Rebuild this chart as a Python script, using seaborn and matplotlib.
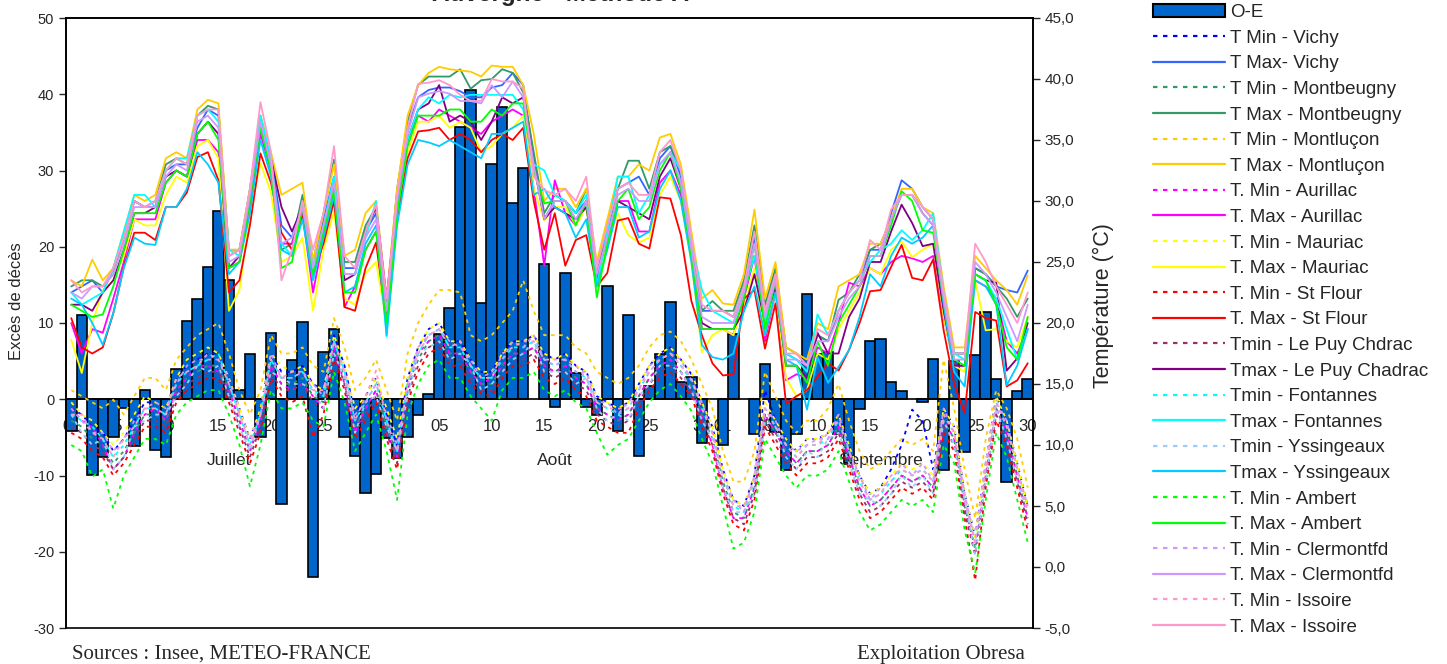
import numpy as np
import pandas as pd
import matplotlib
matplotlib.use("Agg")
import matplotlib.pyplot as plt
from matplotlib.lines import Line2D
from matplotlib.patches import Patch
from matplotlib.ticker import FuncFormatter
import seaborn as sns

# --- excès de décès (O-E), du 1er juillet au 30 septembre 2003 ---
oe_juil = [-4.2, 11.0, -9.9, -7.6, -5.0, -1.2, -6.1, 1.2, -6.6, -7.6, 4.0, 10.3, 13.2, 17.4, 24.7, 15.7,
           1.2, 5.9, -5.0, 8.7, -13.7, 5.2, 10.1, -23.3, 6.2, 9.2, -5.0, -7.5, -12.3, -9.8, -5.1]
oe_aout = [-7.7, -5.0, -2.1, 0.7, 8.6, 12.0, 35.7, 40.5, 12.6, 30.8, 38.3, 25.8, 30.3, np.nan, 17.8, -1.0,
           16.6, 3.5, -1.0, -2.1, 14.8, -4.1, 11.1, -7.4, 1.8, 5.9, 12.7, 2.3, 2.9, -5.7, np.nan]
oe_sept = [-6.0, 8.6, np.nan, -4.6, 4.6, -4.3, -9.3, -4.6, 13.8, 5.9, 6.2, -4.6, -8.4, -1.3, 7.7, 7.9,
           2.2, 1.1, np.nan, -0.3, 5.3, -9.3, 5.0, -6.9, 5.8, 11.4, 2.7, -10.9, 1.1, 2.7]
oe = oe_juil + oe_aout + oe_sept

# --- températures (°C) ---
vichy_tn = ([13,12.5,11.5,11,9.5,10.5,12,13.5,13.5,13,15.5,16.5,17,17.5,17.5,15.5,13,10.5,13,17.5,16,16,16.5,15,14.5,19,16.5,12.5,14,15.5,12.5]
            + [10,15.5,18,19.5,20,18.5,18.5,17,16,16,17.5,18.5,18.5,19,17.5,17,17.5,16.5,16,14,13.5,13,13.5,15,16.5,17.5,18,17,15.8,13.5,11.5]
            + [8,5.5,5,7.5,14.5,12,10.5,9.5,10.5,10.5,11,12.5,10,7.5,6,6.5,8,10,12.9,12,8,13,11.5,6,2.5,8.5,14,12,8.5,5])
vichy_tx = ([22.5,23,23.5,22.5,24.5,27,30,29.5,29.5,32.5,33,33,36,37.5,37,25.5,26,30.5,36.5,33.5,28,27,30,24.5,28.5,32,24.5,24.5,27.5,29,21.5]
            + [30.5,36,38.5,39.1,39.3,39.3,39,38.5,38.5,39.3,39.5,40.5,39.5,33.5,28.5,30,30,29,30,24,27.5,31,31.5,32,30.5,33.5,34.5,32,26.5,21,21]
            + [21,20.5,23,27,21,24,17.5,17,16.5,19,18.5,21,22.5,23.5,26,26,29,31.7,31,29.5,28.5,22.5,17.5,17.5,24.5,24,23,22.7,22.5,24.3])
montbeugny_tn = ([12,11.5,10.5,10,8.5,9.5,11,12.5,12.5,12,14.5,15.5,16,16.5,16.5,14.5,12,9.5,12,16.5,15,15,15.5,14,13.5,18,15.5,11.5,13,14.5,11.5]
                 + [9,14.5,17,18.5,19,17.5,17.5,16,15,15,16.5,17.5,17.5,18,16.5,16,16.5,15.5,15,13,12.5,12,12.5,14,15.5,16.5,17,16,14.8,12.5,10.5]
                 + [7,4.5,4,6.5,12.5,11,9.5,8.5,9.5,9.5,10,11.5,9,6.5,5,5.5,6.5,7.5,7,7.5,6.5,12,10.5,5,1.5,7.5,13,11,7.5,4])
montbeugny_tx = ([23,23.5,23.5,23,24,27,30,29.5,30,33,33.5,33,37,37.8,37.5,26,26,31,37,33.5,26,26.5,30.5,25,29,33.4,25,25,28,29.5,21.5]
                 + [31,36.5,39.5,40.2,40.2,40.2,40.8,39.2,39.9,40,40.8,40.5,38.9,34,29,30.5,30,29,31,24,28,31,33.3,33.3,31,34,34.5,32.5,27,21,21.8]
                 + [21,21,23.5,28,21.5,24.5,18,17.5,16.5,19,18.5,21.9,22.5,24,26,26.5,28.5,30.5,30.5,29,28,22,17.5,17.5,24.5,24,23,22,20.5,22])
montlucon_tn = ([14.5,14,13.5,13,13.7,12.5,14,15.5,15.5,14.5,17,18,19,19.5,20,17.5,14.5,12.5,14.5,19,17.5,17.5,18,16.5,16,20.4,18,14.5,15.5,17,14.5]
                + [12,17.5,20,21.5,22.7,22.7,22.5,19,18.5,19,20,21,23.5,21,19,19,19,18,17.5,16,15.5,15,15.5,16.5,18,19,19.3,18.5,17,15,13]
                + [9.5,7,7,9.5,16,14,12,11,12,12,13,15,12,9.5,8,8.5,9.5,10.5,10,10.5,9.5,17,13,8,4,10.5,14.5,13,10.5,6.5])
montlucon_tx = ([23.5,23,25.2,23.5,24.5,27.5,30.5,30,30.5,33.5,34,33.5,37.5,38.3,38,26,26,31,37,34,30.5,31,31.5,25,29,33,25.5,26,29,30,22]
                + [31,37,39.5,40.5,41,40.8,40.7,40.6,40.2,41.1,41,41,39.5,35.5,30,31,31,29.5,31,25,28.5,32,32,33,32.5,35.2,35.5,33,27.5,22,22.7]
                + [21.6,21.5,24,29.3,22,25,18,17.5,17,20,19.5,23,23.5,24,26.5,26.5,28.5,31,31,29.5,29,23,18,18,25.5,24.5,23.5,22.7,21.5,23.9])
aurillac_tn = ([13,12,11.5,10,8,9,11,12.5,13,12,14.5,15.5,16.5,16.5,16,14.5,12,9.5,12,16.5,15,14.5,15,14,13,18,15,11,13,14.5,11]
               + [9,14.5,17.5,18.5,19,17.5,17.5,16,15,15.5,16.5,17.5,17.5,18,16.5,16,16.5,15.5,15,13,12.5,12,12.5,14,15.5,16.5,17,16,14.5,12.5,10]
               + [6.5,4,4,6.5,12.5,11,9.5,8.5,9.5,9.5,10,11.5,9,6.5,5,5.5,6.5,7.5,7,7.5,6.5,12,10.5,5,1,7.5,13,11,7.5,4])
aurillac_tx = ([20,17.5,19.5,19.2,22,25,28.5,28.5,28.5,31.5,32.5,32,35,35,34,24.5,25,29.5,35.5,32.5,26.5,26.5,29,22.5,27,30.5,21.3,23,26,27.5,20.5]
               + [29.5,35,37,36.5,37.5,37,36.5,36,35.5,36.5,37,37.5,37,31,24.7,31.7,29,28,30,23.5,26.5,30,30,27.5,27.5,31.5,32.5,30.5,25.5,19.5,19.5]
               + [19.5,19,22,25.5,18.5,22.5,15.3,15.8,15.5,18,17.5,20,23.3,23,24.5,24,25,25.5,25.3,25,25.5,20.5,16.5,16.5,23.5,23,22,18.5,17.5,19.5])
mauriac_tn = ([13.5,12.5,12,11,10,11,12.5,14,13.5,13,15.5,17,17.5,18,17.5,15.5,13,10.5,13,17.5,16.5,16,16.5,15,14.5,19,16.5,13,14,15.5,13]
              + [10.5,15.5,18,19.5,20,18.5,18.5,17,16,16,17.5,18.5,18.5,19,17.5,17,17.5,16.5,16,14,13.5,13,13.5,15,16.5,17.5,18,17,16,13.5,11.5]
              + [8,5.5,5,7.5,13.5,12,10.5,9.5,10.5,10.5,11,12.5,10,7.5,6,6.5,7.5,8.5,8,8.5,7.5,13,11.5,6,2.5,8.5,14,12,8.5,5])
mauriac_tx = ([18.6,15.9,20,22.7,23.5,25.5,28.5,28,28,30.5,32,31.5,34.5,35,33.5,21,22.7,29,33.1,30.7,25,25.5,27,21,26,29.2,22,21.5,24.1,25,20]
              + [28.5,34,36.5,36.5,37,36,36.5,36,34,34.5,35.5,36,37,31,28.4,29.5,29.5,28,29.5,23,26.5,29,27.2,26.6,27,30.5,32,30,25,17.6,19]
              + [19.5,19,21.5,24.5,19,22.5,15.5,14,14.5,17.5,17,19.5,21,22.5,24.5,24,26,26.7,25.4,26,26.5,20.5,16.5,16,23.5,19.4,19.5,18.5,18,20.5])
stflour_tn = ([11,10.5,9.5,9,7.5,8.5,10,11.5,11.5,11,13.5,14.5,15,15.5,15.5,13.5,11,8.5,11,15.5,14,13.5,14,10.6,12.5,17,14.5,10.5,12,13.5,10.5]
              + [8,13.5,16,17.5,18,16.5,16.5,15,14.2,14,15.5,16.5,16.5,17,15.5,15,15.5,14.5,14,12,11.5,11,11,13,14.5,15.5,16,15,14,11.5,9.5]
              + [6,3.5,3,5.5,11.5,10,8.5,7.5,8.5,8.5,9,10.5,8,5.5,4,4.5,5.5,6.5,6,6.5,5.5,11,9.5,4,-1.1,6.5,12,10,6.5,3])
stflour_tx = ([20.4,18,17.5,18,20.8,24.6,27.4,27.4,26.8,29.5,29.5,30.7,33.6,34,31.7,22.5,23.5,28,33.9,31.5,27.4,26,28.7,24.1,26.5,30,21.3,21,24.5,26.6,20]
              + [28.5,33.5,35.7,35.8,36,35,35.5,35,34,35,35.5,35,36,30,26,29,24.7,26.8,27.2,23,24.1,28.4,28.6,26.5,26.1,30.3,30.2,27.2,21.8,19,16.7]
              + [15.7,15.8,22,22.7,17.9,21.6,13.4,14,14.5,15.6,16.7,16.1,17.8,20,22.6,22.7,24.6,26.4,23.7,23.5,25.2,19.4,15,12.6,20.9,20.4,20.2,14.8,15.3,16.7])
lepuy_tn = ([11.5,11,10,9.5,8,9,10.5,12,12,11.5,14,15,15.5,16,16,14,11.5,9,11.5,16,14.5,14.5,15,13.5,13,17.5,15,11,12.5,14,11]
            + [8.5,14,16.5,18,18.5,17,17,15.5,14.5,14.5,16,17,17,17.5,16,15.5,16,15,14.5,12.5,12,11.5,12,13.5,15,16,16.5,15.5,14.3,12,10]
            + [6.5,4,3.5,6,12,10.5,9,8,9,9,9.5,11,8.5,6,4.5,5,6,7,6.5,7,6,11.5,10,4.5,1,7,12.5,10.5,7,3.5])
lepuy_tx = ([21.5,21.5,21,22.5,23.5,26,29,29,29.5,32,32.5,32,35.5,36.5,35.5,24.5,25.5,30.5,36,33.5,29.5,27.5,29.5,24,28,31.5,23.5,24,27.5,29.5,22]
            + [30,35,37.5,38,39.5,36.5,37,36.5,35,36.5,38.5,38,38.5,33,28.5,29.5,29,28.5,29.5,24,27,30,29.5,29,28.5,32,33.5,31,25.5,20,19.5]
            + [19.5,19.5,21,24,20,23,16.5,16.5,15.5,19.2,17.5,17.5,20.5,22,25,25,27.5,29.7,28.2,26.3,26.5,21,16.5,16.5,24,23.5,23.3,16.1,17.1,20])
fontannes_tn = ([12.5,12,11.5,10.5,9,10,11.5,13,13,12.5,15,16,16.5,17,17.5,15,12.5,10,12.5,17,15.5,15.5,16,14.5,14,18.5,16,12,13.5,15,12]
                + [9.5,15,17.5,19,19.5,18,18,16.5,15.5,15.5,17,18,18,18.5,17,16.5,17,16,15.5,13.5,13,12.5,13,14.5,16,17,17.5,16.5,15.3,13,11]
                + [7.5,5,4.5,7,13,11.5,10,9,10,10,10.5,12,9.5,7,5.5,6,7,8,7.5,8,7,12.5,11,5.5,2,8,13.5,11.5,8,4.5])
fontannes_tx = ([22.5,21.5,22,22.5,24.5,27.5,30.5,30.5,29.5,32.5,33.5,33.5,37,37.5,36.5,26,25.5,30.5,37,33.5,26.5,25.5,30,24.5,28,32,24,24,27,30,18.9]
                + [29,35,37.5,38.5,38,38.7,38.5,38.7,38.7,38.7,38.7,38.7,37.5,33,32.5,30.5,30,29,30.5,23,27.5,32,32,29,30.5,33,34,32.5,26.5,22.7,21]
                + [20.5,20,22.5,25.5,20,23.5,17.5,17,16,20.7,19,21,22.5,23.5,25,26,26.5,27.6,26.8,27.6,29,22.5,17.5,17,24,23.5,22,19.5,17,19.5])
yssingeaux_tn = ([12.5,11,10,10.5,8,9,11.5,12,12.5,12.5,14,15,16.5,16,16.5,14,11.5,9.5,12.5,16,15.5,15,15,14.5,13,17.5,15.5,11,13.5,14,11.5]
                 + [9.5,14,17.5,18,18.5,17,17.5,16.5,14.5,15,16,17,17.5,18.5,16,16,16,15,15.5,13,12,12.5,12,14,15,16.5,16.5,16,14.5,12,10.5]
                 + [6.5,4.5,4.5,6,12,11.5,9,8,9.5,9,10.5,11,8.5,6,5.5,5,6,7.5,6.5,7.5,6,12,10,5.5,1,7,13,10.5,7,4.5])
yssingeaux_tx = ([22,21.5,20,18.2,20.8,24.5,27,26.5,26.4,29.5,29.5,31,34,33,31.5,24,25,29,35,32,26,25.5,28.5,23.5,27,30.5,22.5,23,26.5,28,19]
                 + [28,33,35,34.8,34.5,35,34.5,34,33.5,35.5,35.5,36,36.5,30.5,31,29.5,29,27,28.5,23,26,29.5,29.5,27,27.5,31,32.5,30,25,18.2,17.2]
                 + [17,17.5,21,23,19,22.5,17,16.5,12.9,17.2,15.1,16.4,17.8,20.5,24,23,25.5,27,26.5,27,28,21.5,16,14.8,23.5,23,21.5,14.9,16.5,19.5])
ambert_tn = ([10,9.5,7.4,8,4.8,7.5,9,10.5,10.5,10,12.5,13.5,14,14.5,14.5,12.5,10,6.6,10,14.5,13,13,13.5,12,11.5,16,13.5,9.5,11,12.5,9.5]
             + [5.5,12.5,15,16.5,17,15.5,15.5,14,13,12,14.5,15.5,15.5,16,14.5,14,14.5,13.5,13,11,9.2,10,10.5,12,13.5,14.5,15,14,12.8,10.5,8.5]
             + [5,1.5,2,4.5,10.5,9,7.5,6.5,7.5,7.5,8,9.5,7,4.5,3,3.5,4.5,5.5,5,5.5,4.5,10,8.5,3,-0.5,5.5,11,9,5.5,2])
ambert_tx = ([21.5,21,20.5,20.7,23,26,29,29,29,31.5,32.5,32,35.5,36.5,35,24.5,25,30,36,32.5,24.5,25,29.5,24,27.5,31,22.5,22.5,26,27.5,20]
             + [29,34.5,37,37,37,37.5,37.5,36.5,36.5,37.5,37,38,38,32.5,29.8,30,30,28,30,22.1,26.5,30,31,28.5,29.5,32.5,34,31,25.5,19.5,19.5]
             + [19.5,19.5,22,26.5,19.5,23.5,16.5,16.5,15.1,18.5,16.5,20,21.5,23,25.5,25.5,28,30.8,30,27.6,27.4,22,17,16.5,24,23.5,21.5,18,17,20.5])
clermont_tn = ([13,12,11,11,9.5,10.5,12,13,13.5,13,15,16.5,17,17,17,15.5,12.5,10.5,12.5,17.5,15.5,15.5,16,15,14,18.5,16,12.5,13.5,15,12.5]
               + [10,15,18,19,19.5,18.5,18,17,15.5,16,17,18.5,18,19,17,16.5,17,16,16,13.5,13.5,12.5,13.5,14.5,16.5,17,17.5,17,15.3,13.5,11]
               + [7.5,5.5,4.5,7.5,13,12,10,9.5,10,10.5,10.5,12.5,9.5,7.5,5.5,6.5,7,8.5,7.5,8.5,7,13,11,6,2,8.5,13.5,12,8,5])
clermont_tx = ([22.5,22,23,23,24,26.5,29.5,29.5,29.5,32,33,32.5,36.5,37,36,25,25.5,30.5,36.5,33,26.5,27,29.5,24.5,28,31.5,24,24,27,28.5,21]
               + [30,35.5,38.5,38.8,39,38.8,38.2,38.2,38,39.5,38.5,39.8,38.5,33,28.5,30,30,28.5,30,24,27,30.5,31,30,30,33,34,31.5,26,20.5,20]
               + [20,20,22.5,26.5,20.5,23.5,17,17,16.5,18.5,18.5,20.5,22,23,25.5,25.5,28.5,30.5,30.5,29,28,22,17,17,25,24,22.5,20.5,18.5,21.5])
issoire_tn = ([12.5,12.5,11,10.5,9,10.5,11.5,13,13,12.5,15.5,16,16.5,17.5,17,15,12.5,10,12.5,17,15.5,16,16,14.5,14.5,18.5,16,12,14,16.1,12]
              + [9.5,15,17.5,19,19.5,18,18.5,16.5,15.5,15.5,17.5,18,18.5,18.5,17,17,17,16.5,15.5,13.5,13,13,13,14.5,16,17,17.5,16.5,15.5,13,11]
              + [7.5,5,5,7,13,11.5,10,9,10,10,11,12,9.5,7,5.5,6,7.5,8,7.5,8,7,12.5,11,5.5,2,8,13.5,11.5,8,4.5])
issoire_tx = ([23.5,22.5,23,23,24.5,27,30,29.5,30,32.5,33.5,33,37,37.5,37.5,25.5,26,31,38.1,34,23.5,26,30,26,29,34.5,25.5,24.5,27.5,29.7,22]
              + [30.5,36,39.6,39.7,39.9,39.5,38.7,38.2,38.2,40,39.8,39.8,39.2,32,30.9,30.5,31,30,32,24.5,28,31,31.5,30.5,30.5,34,35,32.5,27,21.5,21]
              + [21,20.5,23,27.5,21,24,17.5,17.5,16.5,19.5,19,21,22.5,23.5,26.8,26,29.3,30.5,30.5,29.5,28.5,22.5,17.5,17.5,26.5,25,23,21.5,20,22.5])

# axe des dates
jours = np.arange(len(oe))
jours_ticks = [0, 4, 9, 14, 19, 24, 29, 31, 35, 40, 45, 50, 55, 60, 62, 66, 71, 76, 81, 86, 91]
jours_labels = ["01", "05", "10", "15", "20", "25", "30"] * 3
mois = ["Juillet", "Août", "Septembre"]
mois_pos = [15, 46, 77]

# (label, valeurs, couleur, tmin?)
series = [
    ("T Min - Vichy", vichy_tn, "#0000FF", True),
    ("T Max- Vichy", vichy_tx, "#3366FF", False),
    ("T Min - Montbeugny", montbeugny_tn, "#339966", True),
    ("T Max - Montbeugny", montbeugny_tx, "#339966", False),
    ("T Min - Montluçon", montlucon_tn, "#FFCC00", True),
    ("T Max - Montluçon", montlucon_tx, "#FFCC00", False),
    ("T. Min - Aurillac", aurillac_tn, "#FF00FF", True),
    ("T. Max - Aurillac", aurillac_tx, "#FF00FF", False),
    ("T. Min - Mauriac", mauriac_tn, "#FFFF00", True),
    ("T. Max - Mauriac", mauriac_tx, "#FFFF00", False),
    ("T. Min - St Flour", stflour_tn, "#FF0000", True),
    ("T. Max - St Flour", stflour_tx, "#FF0000", False),
    ("Tmin - Le Puy Chdrac", lepuy_tn, "#993366", True),
    ("Tmax - Le Puy Chadrac", lepuy_tx, "#800080", False),
    ("Tmin - Fontannes", fontannes_tn, "#00FFFF", True),
    ("Tmax - Fontannes", fontannes_tx, "#00FFFF", False),
    ("Tmin - Yssingeaux", yssingeaux_tn, "#99CCFF", True),
    ("Tmax - Yssingeaux", yssingeaux_tx, "#00CCFF", False),
    ("T. Min - Ambert", ambert_tn, "#00FF00", True),
    ("T. Max - Ambert", ambert_tx, "#00FF00", False),
    ("T. Min - Clermontfd", clermont_tn, "#CC99FF", True),
    ("T. Max - Clermontfd", clermont_tx, "#CC99FF", False),
    ("T. Min - Issoire", issoire_tn, "#FF99CC", True),
    ("T. Max - Issoire", issoire_tx, "#FF99CC", False),
]

sns.set_style("white")
plt.rcParams["font.family"] = ["Liberation Sans", "DejaVu Sans"]
plt.rcParams["axes.unicode_minus"] = False

fig = plt.figure(figsize=(14.47, 6.64), dpi=100)
ax = fig.add_axes([66 / 1447, 1 - 628 / 664, 967 / 1447, 610 / 664])

BAR_COLOR = "#0066CC"
DOT = (0, (2, 2.5))

# barres O-E
sns.barplot(x=jours, y=oe, native_scale=True, color=BAR_COLOR, saturation=1, width=1,
            edgecolor="black", linewidth=1.2, errorbar=None, ax=ax)

ax.set_xlim(-0.5, 91.5)
ax.set_ylim(-30, 50)
ax.set_yticks(range(-30, 51, 10))
ax.set_ylabel("Excès de décès", fontsize=12)
ax.yaxis.set_label_coords(-0.043, 0.536)
ax.spines["bottom"].set_position(("data", 0))
for s in ax.spines.values():
    s.set_color("black")
    s.set_linewidth(1.2)
ax.set_xticks(jours_ticks, jours_labels)
ax.tick_params(axis="x", length=0, pad=14, labelsize=12)
ax.tick_params(axis="y", direction="out", length=5, width=1, labelsize=10.5, left=True)
for m, p in zip(mois, mois_pos):
    ax.text(p, -8.0, m, ha="center", va="center", fontsize=12.5)

# températures sur l'axe de droite
ax2 = ax.twinx()
for label, vals, color, is_min in series:
    sns.lineplot(x=jours, y=vals, ax=ax2, color=color, linewidth=1.3,
                 linestyle=DOT if is_min else "-", errorbar=None, legend=False)
ax2.set_ylim(-5, 45)
ax2.set_yticks(range(-5, 46, 5))
ax2.yaxis.set_major_formatter(FuncFormatter(lambda v, p: f"{v:.1f}".replace(".", ",")))
ax2.tick_params(axis="y", direction="out", length=5, width=1, labelsize=11, right=True)
ax2.set_ylabel("Température (°C)", fontsize=15.5)
ax2.yaxis.set_label_coords(1.062, 0.529)
for s in ax2.spines.values():
    s.set_color("black")
    s.set_linewidth(1.2)

# légende
handles = [Patch(facecolor=BAR_COLOR, edgecolor="black", linewidth=1.5)]
labels = ["O-E"]
for label, vals, color, is_min in series:
    handles.append(Line2D([], [], color=color, linewidth=1.6, linestyle=DOT if is_min else "-"))
    labels.append(label)
fig.legend(handles, labels, loc="upper left", bbox_to_anchor=(1153 / 1447, 1 - 4 / 664), frameon=False,
           fontsize=13.5, handlelength=3.85, handletextpad=0.27, labelspacing=0.452,
           borderaxespad=0, borderpad=0)

fig.text(560 / 1447, 1 - 0.5 / 664, "Auvergne - Méthode A", ha="center", va="baseline",
         fontsize=17.5, fontweight="bold")
fig.text(72 / 1447, 1 - 654 / 664, "Sources : Insee, METEO-FRANCE", ha="left", va="center",
         fontsize=15, family="Liberation Serif")
fig.text(1025 / 1447, 1 - 654 / 664, "Exploitation Obresa", ha="right", va="center",
         fontsize=15, family="Liberation Serif")

fig.savefig("out.png", dpi=100)
